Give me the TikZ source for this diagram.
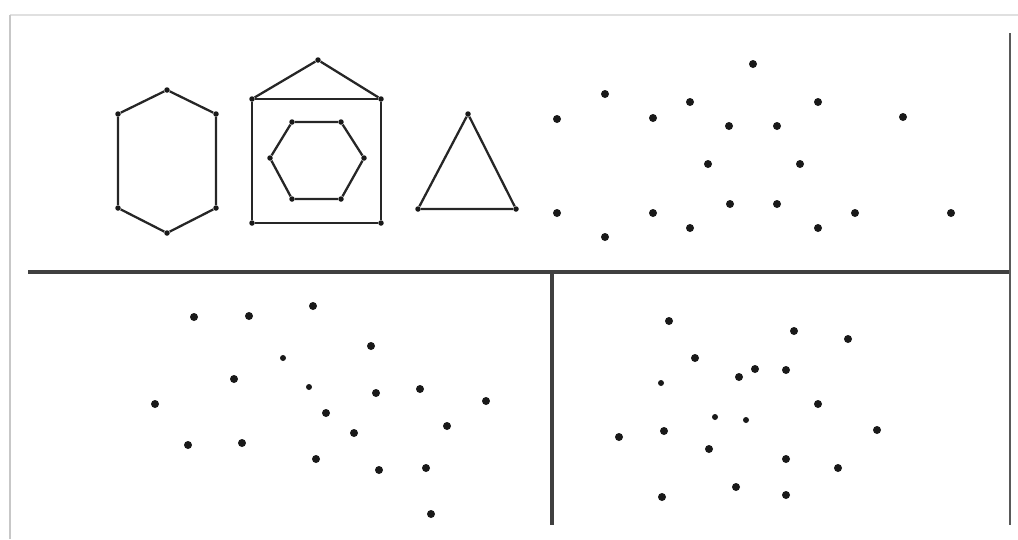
\documentclass[tikz,border=0pt]{standalone}
\usetikzlibrary{positioning}
\begin{document}
\begin{tikzpicture}[x=0.02cm, y=-0.02cm,
  dot/.style={circle, fill=black!90, inner sep=0pt, minimum size=0.16cm},
  smalldot/.style={dot, minimum size=0.12cm},
  vertex/.style={circle, fill=black!90, inner sep=0pt, minimum size=0.11cm},
  edge/.style={black!85, line width=1.3pt, line join=round},
  divider/.style={black!75, line width=1.8pt}]
  \useasboundingbox (0,0) rectangle (1018,539);
  % faint border of the scan
  \coordinate (sbl) at (10,539);
  \coordinate (stl) at (10,15);
  \coordinate (str) at (1018,15);
  \draw[black!12, line width=0.6pt] (stl) -- (str);
  \draw[black!22, line width=1.2pt] (sbl) -- (stl);

  % panel lines
  \coordinate (hl) at (28,272);
  \coordinate (hr) at (1010,272);
  \coordinate (vt) at (552,272);
  \coordinate (vb) at (552,525);
  \coordinate (rt) at (1010,33);
  \coordinate (rb) at (1010,525);
  \draw[divider] (hl) -- (hr);
  \draw[divider] (vt) -- (vb);
  \draw[black!65, line width=1.2pt] (rt) -- (rb);

  % hexagon
  \foreach \x/\y [count=\k] in {167/90, 216/114, 216/208, 167/233, 118/208, 118/114}
    \node[vertex] (h\k) at (\x,\y) {};
  \draw[edge] (h1) -- (h2) -- (h3) -- (h4) -- (h5) -- (h6) -- (h1);

  % house with inner hexagon
  \foreach \x/\y [count=\k] in {252/99, 381/99, 381/223, 252/223, 318/60}
    \node[vertex] (s\k) at (\x,\y) {};
  \draw[edge] (s1) -- (s2) -- (s3) -- (s4) -- (s1);
  \draw[edge] (s1) -- (s5) -- (s2);
  \foreach \x/\y [count=\k] in {292/122, 341/122, 364/158, 341/199, 292/199, 270/158}
    \node[vertex] (i\k) at (\x,\y) {};
  \draw[edge] (i1) -- (i2) -- (i3) -- (i4) -- (i5) -- (i6) -- (i1);

  % triangle
  \foreach \x/\y [count=\k] in {468/114, 516/209, 418/209}
    \node[vertex] (t\k) at (\x,\y) {};
  \draw[edge] (t1) -- (t2) -- (t3) -- (t1);

  % top right points
  \foreach \x/\y [count=\k] in {753/64, 605/94, 557/119, 653/118, 690/102, 729/126,
      777/126, 818/102, 903/117, 708/164, 800/164, 557/213, 653/213, 730/204,
      777/204, 855/213, 951/213, 605/237, 690/228, 818/228}
    \node[dot] (a\k) at (\x,\y) {};

  % bottom left points
  \foreach \x/\y [count=\k] in {194/317, 249/316, 313/306, 234/379, 155/404, 326/413,
      188/445, 242/443, 316/459, 371/346, 376/393, 420/389, 486/401, 447/426,
      354/433, 379/470, 426/468, 431/514}
    \node[dot] (b\k) at (\x,\y) {};
  \node[smalldot] (b19) at (283,358) {};
  \node[smalldot] (b20) at (309,387) {};

  % bottom right points
  \foreach \x/\y [count=\k] in {669/321, 794/331, 848/339, 695/358, 755/369, 786/370,
      739/377, 818/404, 664/431, 619/437, 877/430, 709/449, 786/459, 838/468,
      736/487, 662/497, 786/495}
    \node[dot] (c\k) at (\x,\y) {};
  \node[smalldot] (c18) at (661,383) {};
  \node[smalldot] (c19) at (715,417) {};
  \node[smalldot] (c20) at (746,420) {};
\end{tikzpicture}
\end{document}
